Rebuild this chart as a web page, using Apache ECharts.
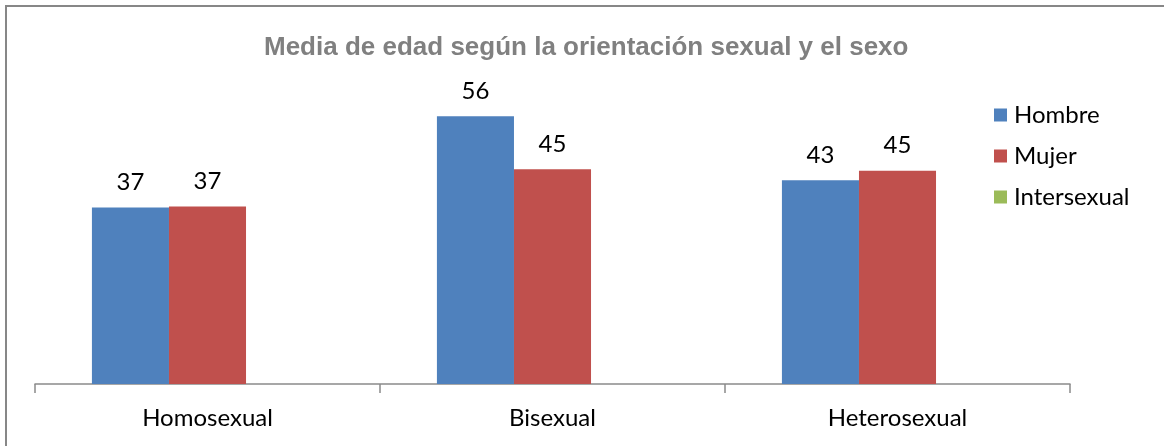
<!DOCTYPE html>
<html>
<head>
<meta charset="utf-8">
<script src="https://cdn.jsdelivr.net/npm/echarts@6/dist/echarts.min.js"></script>
<style>
  html, body { margin: 0; padding: 0; background: #fff; }
  #chart { width: 1164px; height: 446px; }
</style>
</head>
<body>
<div id="chart"></div>
<script>
// datos
const categorias = ['Homosexual', 'Bisexual', 'Heterosexual']
const hombre = [36.9, 56.0, 42.6]
const mujer = [37.1, 44.9, 44.6]
const intersexual = ['-', '-', '-']

const labelFont = 'Lato, "Noto Sans", sans-serif'

const chart = echarts.init(document.getElementById('chart'))

function barLabel() {
  return {
    show: true,
    position: 'top',
    distance: 13,
    color: '#000',
    fontFamily: labelFont,
    fontSize: 24,
    formatter: p => Math.round(p.value)
  }
}

const option = {
  animation: false,
  backgroundColor: '#fff',
  // marco exterior del gráfico
  graphic: [{
    type: 'rect',
    shape: { x: 6, y: 6, width: 1200, height: 500 },
    style: { fill: 'none', stroke: '#878787', lineWidth: 2 },
    silent: true
  }],
  title: {
    text: 'Media de edad según la orientación sexual y el sexo',
    left: 259,
    top: 30,
    textStyle: {
      fontFamily: '"Liberation Sans", Arial, sans-serif',
      fontSize: 26,
      fontWeight: 'bold',
      color: '#808080'
    }
  },
  legend: {
    orient: 'vertical',
    left: 989,
    top: 98,
    itemWidth: 13,
    itemHeight: 13,
    itemGap: 17,
    icon: 'rect',
    textStyle: {
      fontFamily: labelFont,
      fontSize: 24,
      lineHeight: 24,
      color: '#000',
      padding: [0, 0, 0, 2]
    },
    data: ['Hombre', 'Mujer', 'Intersexual']
  },
  grid: { left: 35, right: 94, top: 97, bottom: 62 },
  xAxis: {
    type: 'category',
    data: categorias,
    axisLine: { lineStyle: { color: '#8a8a8a', width: 1.5 } },
    axisTick: { show: true, length: 9, lineStyle: { color: '#8a8a8a', width: 1.5 } },
    axisLabel: { color: '#000', fontFamily: labelFont, fontSize: 24, margin: 22 }
  },
  yAxis: {
    type: 'value',
    min: 0,
    max: 60,
    show: false,
    splitLine: { show: false }
  },
  series: [
    {
      name: 'Hombre', type: 'bar', data: hombre,
      barGap: 0, barCategoryGap: '33%',
      itemStyle: { color: '#4F81BD' },
      label: barLabel()
    },
    {
      name: 'Mujer', type: 'bar', data: mujer,
      barGap: 0, barCategoryGap: '33%',
      itemStyle: { color: '#C0504D' },
      label: barLabel()
    },
    {
      name: 'Intersexual', type: 'bar', data: intersexual,
      barGap: 0, barCategoryGap: '33%',
      itemStyle: { color: '#9BBB59' },
      label: barLabel()
    }
  ]
}

chart.setOption(option)
</script>
</body>
</html>
